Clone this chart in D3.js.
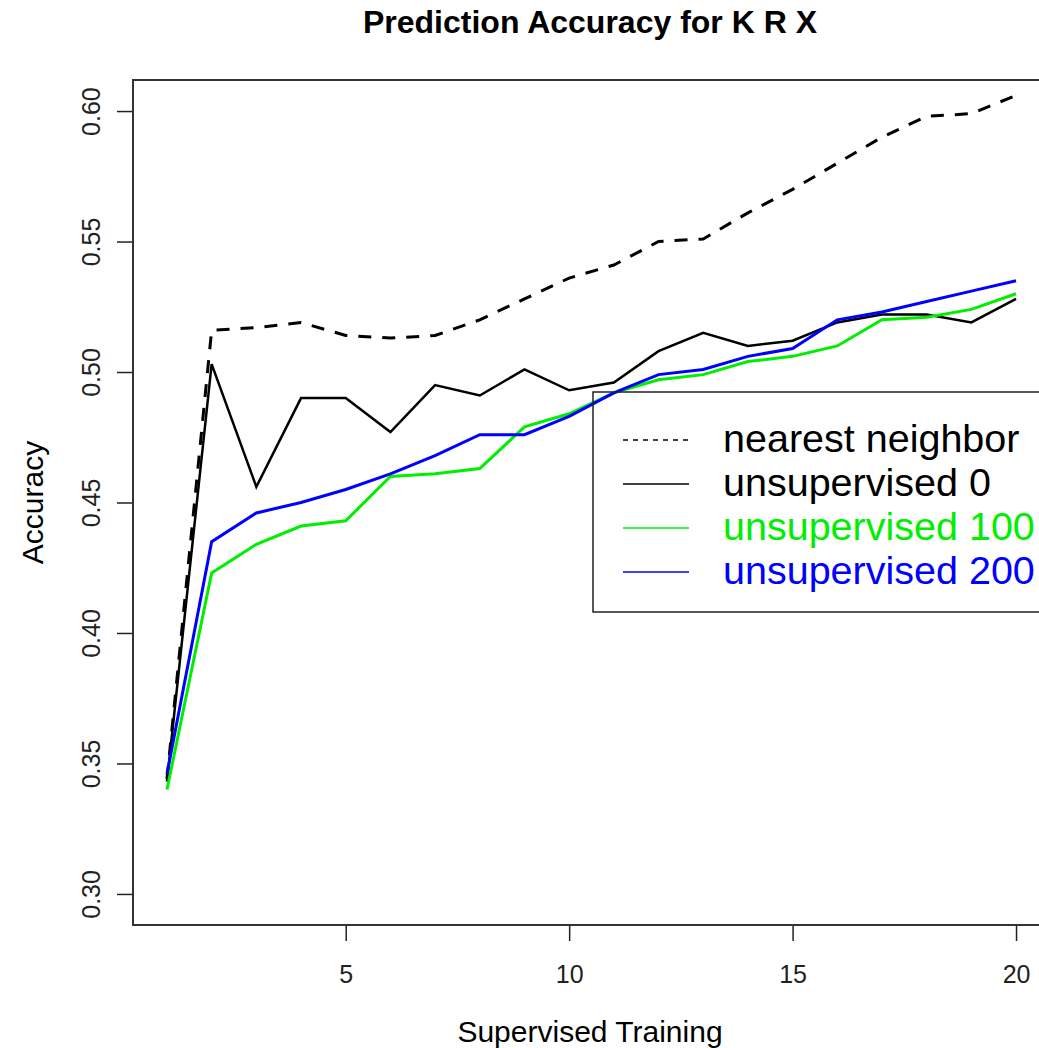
<!DOCTYPE html>
<html>
<head>
<meta charset="utf-8">
<script src="https://cdn.jsdelivr.net/npm/d3@7"></script>
<style>
  body { margin: 0; background: #fff; }
  text { font-family: "Liberation Sans", Arial, sans-serif; }
</style>
</head>
<body>
<div id="chart-area"></div>
<script>

// chart data
let training = d3.range(1, 21);

let nearestNeighbor = [0.344, 0.516, 0.517, 0.519, 0.514, 0.513, 0.514, 0.520, 0.528, 0.536,
	0.541, 0.550, 0.551, 0.561, 0.570, 0.580, 0.590, 0.598, 0.599, 0.606];
let unsup0 = [0.343, 0.503, 0.456, 0.490, 0.490, 0.477, 0.495, 0.491, 0.501, 0.493,
	0.496, 0.508, 0.515, 0.510, 0.512, 0.519, 0.522, 0.522, 0.519, 0.528];
let unsup100 = [0.340, 0.423, 0.434, 0.441, 0.443, 0.460, 0.461, 0.463, 0.479, 0.484,
	0.492, 0.497, 0.499, 0.504, 0.506, 0.510, 0.520, 0.521, 0.524, 0.530];
let unsup200 = [0.346, 0.435, 0.446, 0.450, 0.455, 0.461, 0.468, 0.476, 0.476, 0.483,
	0.492, 0.499, 0.501, 0.506, 0.509, 0.520, 0.523, 0.527, 0.531, 0.535];

let seriesNames = ["nearest neighbor", "unsupervised 0", "unsupervised 100", "unsupervised 200"];
let xTicks = [5, 10, 15, 20];
let yTicks = [0.30, 0.35, 0.40, 0.45, 0.50, 0.55, 0.60];


/////////////////////////
// SVG drawing area
/////////////////////////

let margin = {top: 80, left: 133};
let width = 917, height = 845;

let svg = d3.select("#chart-area").append("svg")
		.attr("width", 1039)
		.attr("height", 1048)
	.append("g")
		.attr("transform", "translate(" + margin.left + "," + margin.top + ")");

let x = d3.scaleLinear()
	.domain([0.24, 20.76])
	.range([0, width]);

let y = d3.scaleLinear()
	.domain([0.2881, 0.6119])
	.range([height, 0]);


// Axes

let xAxis = d3.axisBottom(x)
	.tickValues(xTicks)
	.tickSize(16)
	.tickSizeOuter(0);

let yAxis = d3.axisLeft(y)
	.tickValues(yTicks)
	.tickSize(16)
	.tickSizeOuter(0)
	.tickFormat(d3.format(".2f"));

let xAxisGroup = svg.append("g")
	.attr("class", "x-axis axis")
	.attr("transform", "translate(0," + height + ")")
	.call(xAxis);

xAxisGroup.select(".domain").remove();
xAxisGroup.selectAll("line").attr("stroke", "#222").attr("stroke-width", 1.5);
xAxisGroup.selectAll("text")
	.attr("y", 58)
	.attr("dy", 0)
	.attr("fill", "#222")
	.attr("font-size", 25)
	.style("font-family", "Liberation Sans, Arial, sans-serif");

let yAxisGroup = svg.append("g")
	.attr("class", "y-axis axis")
	.call(yAxis);

yAxisGroup.select(".domain").remove();
yAxisGroup.selectAll("line").attr("stroke", "#222").attr("stroke-width", 1.5);
yAxisGroup.selectAll("text")
	.attr("transform", "rotate(-90)")
	.attr("x", 0)
	.attr("y", -33)
	.attr("dy", 0)
	.attr("text-anchor", "middle")
	.attr("fill", "#222")
	.attr("font-size", 25)
	.style("font-family", "Liberation Sans, Arial, sans-serif");


// Lines

const line = d3.line()
	.x(function(d, i){ return x(training[i]); })
	.y(function(d){ return y(d); })
	.curve(d3.curveLinear);

svg.append("path")
	.datum(nearestNeighbor)
	.attr("d", line)
	.attr("fill", "none")
	.attr("stroke", "black")
	.attr("stroke-width", 3)
	.attr("stroke-dasharray", "13,11");

svg.append("path")
	.datum(unsup0)
	.attr("d", line)
	.attr("fill", "none")
	.attr("stroke", "black")
	.attr("stroke-width", 2.5);

svg.append("path")
	.datum(unsup100)
	.attr("d", line)
	.attr("fill", "none")
	.attr("stroke", "#00ee00")
	.attr("stroke-width", 3);

svg.append("path")
	.datum(unsup200)
	.attr("d", line)
	.attr("fill", "none")
	.attr("stroke", "#0000ff")
	.attr("stroke-width", 3);


// Plot frame

svg.append("rect")
	.attr("x", 0)
	.attr("y", 0)
	.attr("width", width)
	.attr("height", height)
	.attr("fill", "none")
	.attr("stroke", "#333")
	.attr("stroke-width", 2);


// Legend (no background, lines show through like R's default)

let legendColors = ["black", "black", "#00ee00", "#0000ff"];
let legendDash = ["5,5", null, null, null];

let legend = svg.append("g")
	.attr("transform", "translate(" + (593 - margin.left) + "," + (392 - margin.top) + ")");

legend.append("rect")
	.attr("width", 500)
	.attr("height", 220)
	.attr("fill", "none")
	.attr("stroke", "#222")
	.attr("stroke-width", 1.5);

let rows = legend.selectAll(".legend-row")
	.data(seriesNames)
	.enter()
	.append("g")
	.attr("class", "legend-row")
	.attr("transform", function(d, i){ return "translate(0," + (60 + i * 44) + ")"; });

rows.append("line")
	.attr("x1", 30)
	.attr("x2", 96)
	.attr("y1", -12)
	.attr("y2", -12)
	.attr("stroke", function(d, i){ return legendColors[i]; })
	.attr("stroke-width", 1.5)
	.attr("stroke-dasharray", function(d, i){ return legendDash[i]; });

rows.append("text")
	.attr("x", 130)
	.attr("y", 0)
	.attr("font-size", 39.5)
	.attr("fill", function(d, i){ return legendColors[i]; })
	.text(function(d){ return d; });


// Titles

svg.append("text")
	.attr("x", 590 - margin.left)
	.attr("y", 33 - margin.top)
	.attr("text-anchor", "middle")
	.attr("font-size", 32)
	.attr("font-weight", "bold")
	.text("Prediction Accuracy for K R X");

svg.append("text")
	.attr("x", 590 - margin.left)
	.attr("y", 1042 - margin.top)
	.attr("text-anchor", "middle")
	.attr("font-size", 30)
	.text("Supervised Training");

svg.append("text")
	.attr("transform", "translate(" + (43 - margin.left) + "," + (height / 2) + ") rotate(-90)")
	.attr("text-anchor", "middle")
	.attr("font-size", 30)
	.text("Accuracy");

</script>
</body>
</html>
